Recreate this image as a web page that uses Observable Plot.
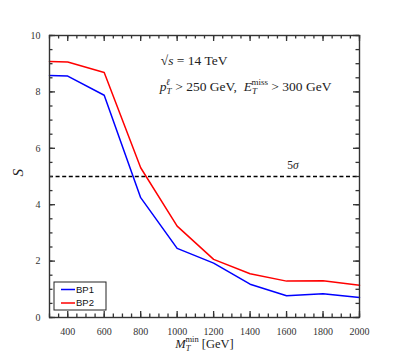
<!DOCTYPE html>
<html><head><meta charset="utf-8">
<script src="https://cdn.jsdelivr.net/npm/d3@7"></script>
<script src="https://cdn.jsdelivr.net/npm/@observablehq/plot@0.6"></script>
<style>
html,body{margin:0;padding:0;background:#fff;}
#chart{width:399px;height:352px;}
</style>
</head><body><div id="chart"></div>
<script>
// ---- data ----
const mtMin = [300, 400, 600, 800, 1000, 1200, 1400, 1600, 1800, 2000];
const bp1   = [8.58, 8.56, 7.88, 4.25, 2.45, 1.93, 1.18, 0.77, 0.84, 0.71];
const bp2   = [9.08, 9.06, 8.69, 5.31, 3.24, 2.06, 1.55, 1.29, 1.30, 1.14];
const seriesNames = ["BP1", "BP2"];
const seriesColors = ["#0000ff", "#ff0000"];
const xTicks = [400, 600, 800, 1000, 1200, 1400, 1600, 1800, 2000];
const yTicks = [0, 2, 4, 6, 8, 10];
const xMinorTicks = d3.range(300, 2001, 50);
const yMinorTicks = d3.range(0, 10.001, 0.5);
const threshold = 5;
const thresholdLabel = "5σ";
const thresholdLabelPos = {x: 1635, y: 5.4};
const noteLines = ["√s = 14 TeV", "pT > 250 GeV, ET > 300 GeV"];
const noteX = [910, 905];
const noteY = [9.1, 8.2];

const rows = [];
seriesNames.forEach((name, s) => {
  const vals = s === 0 ? bp1 : bp2;
  mtMin.forEach((m, i) => rows.push({series: name, mt: m, S: vals[i]}));
});
const notes = noteLines.map((t, i) => ({t, x: noteX[i], y: noteY[i]}));

const W = 399, H = 352, mL = 49, mR = 40, mT = 35, mB = 35;
const innerW = W - mL - mR, innerH = H - mT - mB;
const serif = "'Liberation Serif', 'DejaVu Serif', serif";
const axisColor = "#333";
const ticks = (vals, side, len) => {
  const o = {stroke: axisColor, strokeWidth: 1.3};
  if (side === "bottom") return Plot.ruleX(vals, {x: d => d, insetTop: innerH - len, ...o});
  if (side === "top") return Plot.ruleX(vals, {x: d => d, insetBottom: innerH - len, ...o});
  if (side === "left") return Plot.ruleY(vals, {y: d => d, insetRight: innerW - len, ...o});
  return Plot.ruleY(vals, {y: d => d, insetLeft: innerW - len, ...o});
};

const plot = Plot.plot({
  width: W,
  height: H,
  marginLeft: mL,
  marginRight: mR,
  marginTop: mT,
  marginBottom: mB,
  style: {background: "#fff", fontFamily: serif},
  x: {domain: [300, 2000]},
  y: {domain: [0, 10]},
  color: {domain: seriesNames, range: seriesColors},
  marks: [
    Plot.ruleY([threshold], {stroke: "#000", strokeWidth: 1.3, strokeDasharray: "4,2.6"}),
    Plot.line(rows, {x: "mt", y: "S", z: "series", stroke: "series", strokeWidth: 1.5}),
    // tick labels
    Plot.axisX(xTicks, {anchor: "bottom", tickSize: 0, tickPadding: 10, fontSize: 10, fontFamily: serif, fill: "#333", label: null, tickFormat: d => String(d)}),
    Plot.axisY(yTicks, {anchor: "left", tickSize: 0, tickPadding: 9, fontSize: 10, fontFamily: serif, fill: "#333", label: null, tickFormat: d => String(d)}),
    // inward major + minor ticks on all sides
    ticks(xTicks, "bottom", 6), ticks(xTicks, "top", 6),
    ticks(yTicks, "left", 6), ticks(yTicks, "right", 6),
    ticks(xMinorTicks, "bottom", 3.5), ticks(xMinorTicks, "top", 3.5),
    ticks(yMinorTicks, "left", 3.5), ticks(yMinorTicks, "right", 3.5),
    Plot.frame({stroke: axisColor, strokeWidth: 1.4}),
    // annotations
    Plot.text(notes, {x: "x", y: "y", text: "t", textAnchor: "start", fontSize: 13.5, fontFamily: serif, fill: "#222", className: "note"}),
    Plot.text([thresholdLabel], {x: thresholdLabelPos.x, y: thresholdLabelPos.y, fontSize: 11.5, fontFamily: serif, fill: "#222", className: "siglabel"}),
    // axis titles
    Plot.text(["MT [GeV]"], {frameAnchor: "bottom", dy: 30, fontSize: 12.5, fontFamily: serif, fill: "#222", className: "xlabel"}),
    Plot.text(["S"], {frameAnchor: "left", dx: -31, rotate: -90, fontSize: 15, fontFamily: serif, fontStyle: "italic", fill: "#222"})
  ]
});

// rich text helper
function rich(textEl, parts) {
  const t = d3.select(textEl);
  t.text(null);
  parts.forEach(p => {
    const s = t.append("tspan").text(p.t);
    if (p.i) s.attr("font-style", "italic");
    if (p.fs) s.attr("font-size", p.fs);
    if (p.dx != null) s.attr("dx", p.dx);
    if (p.dy != null) s.attr("dy", p.dy);
  });
}
const svg = d3.select(plot);
svg.selectAll("g.note text").each(function(d, i) {
  if (i === 0) {
    rich(this, [{t: "√"}, {t: "s", i: 1}, {t: " = 14 TeV"}]);
  } else {
    rich(this, [
      {t: "p", i: 1},
      {t: "T", i: 1, fs: 9, dy: 3.5},
      {t: "ℓ", i: 1, fs: 9, dx: -5.5, dy: -9},
      {t: " > 250 GeV,  ", dx: 2, dy: 5.5},
      {t: "E", i: 1},
      {t: "T", i: 1, fs: 9, dy: 3.5},
      {t: "miss", fs: 9, dx: -5.5, dy: -9},
      {t: " > 300 GeV", dy: 5.5}
    ]);
  }
});
svg.selectAll("g.siglabel text").each(function() {
  rich(this, [{t: "5"}, {t: "σ", i: 1}]);
});
svg.selectAll("g.xlabel text").each(function() {
  rich(this, [
    {t: "M", i: 1},
    {t: "T", i: 1, fs: 8.5, dy: 3},
    {t: "min", fs: 8.5, dx: -5, dy: -8.5},
    {t: " [GeV]", dy: 5.5}
  ]);
});

// legend box (lower-left, inside frame)
const lg = svg.append("g").attr("transform", `translate(${mL + 5},${H - mB - 35})`);
lg.append("rect").attr("width", 52).attr("height", 28).attr("fill", "#fff").attr("stroke", "#222").attr("stroke-width", 1);
seriesNames.forEach((name, i) => {
  const y = 7.5 + i * 13.5;
  lg.append("line").attr("x1", 7).attr("x2", 21).attr("y1", y).attr("y2", y)
    .attr("stroke", seriesColors[i]).attr("stroke-width", 1.5);
  lg.append("text").attr("x", 31).attr("y", y).attr("dy", "0.35em")
    .attr("font-family", "'Liberation Sans', Arial, sans-serif").attr("font-size", 9.5)
    .attr("fill", "#111").text(name);
});

document.getElementById("chart").append(plot);
</script>
</body></html>
